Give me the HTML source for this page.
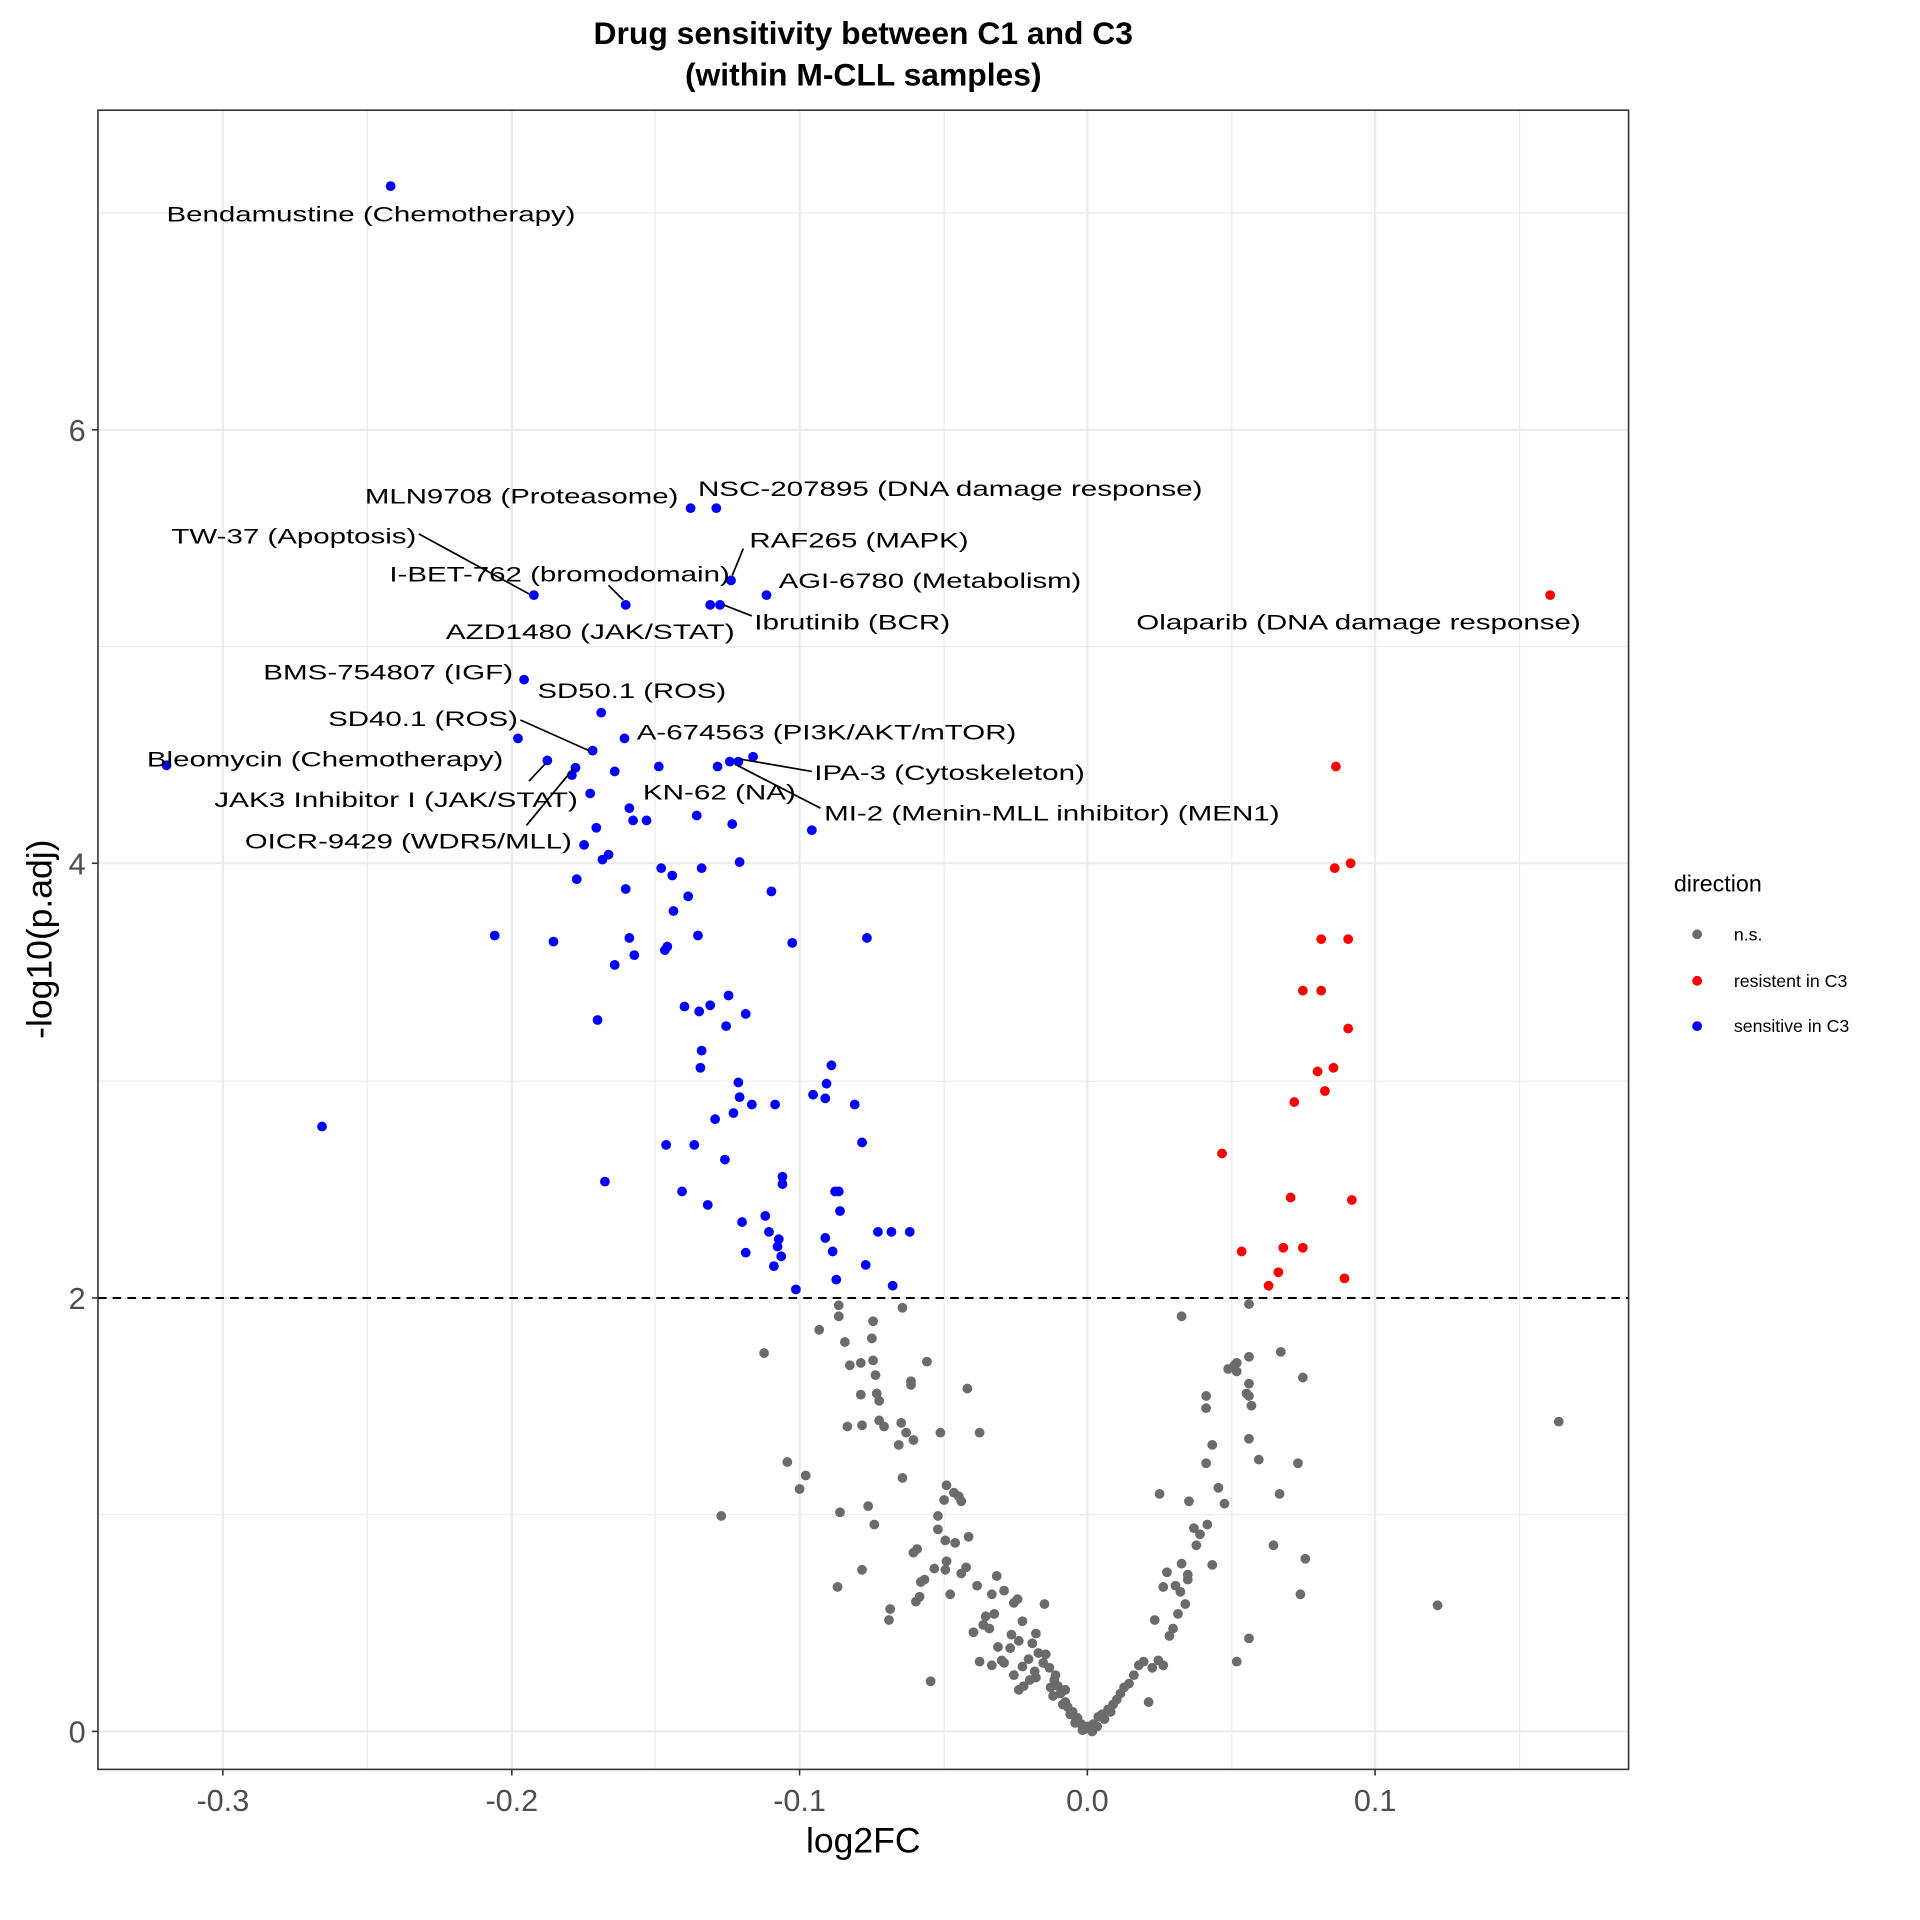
<!DOCTYPE html>
<html><head><meta charset="utf-8"><style>html,body{margin:0;padding:0;background:#fff}svg{display:block}</style></head>
<body>
<svg width="1920" height="1920" viewBox="0 0 1568 1568" xmlns="http://www.w3.org/2000/svg" font-family="Liberation Sans, Arial, sans-serif">
<rect width="1568" height="1568" fill="#fff"/>
<g stroke="#ebebeb" stroke-width="0.9">
<line x1="80" x2="1330" y1="1237" y2="1237"/><line x1="80" x2="1330" y1="883" y2="883"/><line x1="80" x2="1330" y1="528" y2="528"/><line x1="80" x2="1330" y1="174" y2="174"/>
<line y1="90" y2="1445" x1="300" x2="300"/><line y1="90" y2="1445" x1="535" x2="535"/><line y1="90" y2="1445" x1="771" x2="771"/><line y1="90" y2="1445" x1="1006" x2="1006"/><line y1="90" y2="1445" x1="1241" x2="1241"/>
</g>
<g stroke="#ebebeb" stroke-width="1.8">
<line x1="80" x2="1330" y1="1414" y2="1414"/><line x1="80" x2="1330" y1="1060" y2="1060"/><line x1="80" x2="1330" y1="705" y2="705"/><line x1="80" x2="1330" y1="351" y2="351"/>
<line y1="90" y2="1445" x1="182" x2="182"/><line y1="90" y2="1445" x1="418" x2="418"/><line y1="90" y2="1445" x1="653" x2="653"/><line y1="90" y2="1445" x1="888" x2="888"/><line y1="90" y2="1445" x1="1123" x2="1123"/>
</g>
<line x1="80" x2="1330" y1="1060" y2="1060" stroke="#000" stroke-width="1.6" stroke-dasharray="7,5"/>
<g id="pts"></g>
<g font-size="17.5" fill="#000">
<text x="136" y="181" textLength="334" lengthAdjust="spacingAndGlyphs">Bendamustine (Chemotherapy)</text>
<text x="298" y="411" textLength="256" lengthAdjust="spacingAndGlyphs">MLN9708 (Proteasome)</text>
<text x="570" y="405" textLength="412" lengthAdjust="spacingAndGlyphs">NSC-207895 (DNA damage response)</text>
<text x="140" y="444" textLength="200" lengthAdjust="spacingAndGlyphs">TW-37 (Apoptosis)</text>
<text x="612" y="447" textLength="179" lengthAdjust="spacingAndGlyphs">RAF265 (MAPK)</text>
<text x="318" y="475" textLength="278" lengthAdjust="spacingAndGlyphs">I-BET-762 (bromodomain)</text>
<text x="636" y="480" textLength="247" lengthAdjust="spacingAndGlyphs">AGI-6780 (Metabolism)</text>
<text x="364" y="522" textLength="236" lengthAdjust="spacingAndGlyphs">AZD1480 (JAK/STAT)</text>
<text x="616" y="514" textLength="160" lengthAdjust="spacingAndGlyphs">Ibrutinib (BCR)</text>
<text x="928" y="514" textLength="363" lengthAdjust="spacingAndGlyphs">Olaparib (DNA damage response)</text>
<text x="215" y="555" textLength="204" lengthAdjust="spacingAndGlyphs">BMS-754807 (IGF)</text>
<text x="439" y="570" textLength="154" lengthAdjust="spacingAndGlyphs">SD50.1 (ROS)</text>
<text x="268" y="593" textLength="155" lengthAdjust="spacingAndGlyphs">SD40.1 (ROS)</text>
<text x="520" y="604" textLength="310" lengthAdjust="spacingAndGlyphs">A-674563 (PI3K/AKT/mTOR)</text>
<text x="120" y="626" textLength="291" lengthAdjust="spacingAndGlyphs">Bleomycin (Chemotherapy)</text>
<text x="665" y="637" textLength="221" lengthAdjust="spacingAndGlyphs">IPA-3 (Cytoskeleton)</text>
<text x="175" y="659" textLength="297" lengthAdjust="spacingAndGlyphs">JAK3 Inhibitor I (JAK/STAT)</text>
<text x="525" y="653" textLength="125" lengthAdjust="spacingAndGlyphs">KN-62 (NA)</text>
<text x="673" y="670" textLength="372" lengthAdjust="spacingAndGlyphs">MI-2 (Menin-MLL inhibitor) (MEN1)</text>
<text x="200" y="693" textLength="267" lengthAdjust="spacingAndGlyphs">OICR-9429 (WDR5/MLL)</text>
</g>
<g stroke="#000" stroke-width="1.4">
<line x1="342" y1="436" x2="432" y2="485"/><line x1="607" y1="448" x2="598" y2="470"/><line x1="497" y1="478" x2="509" y2="490"/>
<line x1="614" y1="503" x2="591" y2="494"/><line x1="425" y1="588" x2="481" y2="613"/><line x1="663" y1="630" x2="605" y2="620"/>
<line x1="432" y1="638" x2="445" y2="624"/><line x1="670" y1="660" x2="602" y2="625"/><line x1="430" y1="674" x2="468" y2="628"/>
</g>
<rect x="80" y="90" width="1250" height="1355" fill="none" stroke="#333" stroke-width="1.3"/>
<g stroke="#333" stroke-width="1.3">
<line x1="75" x2="80" y1="1414" y2="1414"/><line x1="75" x2="80" y1="1060" y2="1060"/><line x1="75" x2="80" y1="705" y2="705"/><line x1="75" x2="80" y1="351" y2="351"/>
<line y1="1445" y2="1450" x1="182" x2="182"/><line y1="1445" y2="1450" x1="418" x2="418"/><line y1="1445" y2="1450" x1="653" x2="653"/><line y1="1445" y2="1450" x1="888" x2="888"/><line y1="1445" y2="1450" x1="1123" x2="1123"/>
</g>
<g font-size="25" fill="#4d4d4d" text-anchor="end">
<text x="70" y="1423">0</text><text x="70" y="1069">2</text><text x="70" y="714">4</text><text x="70" y="360">6</text>
</g>
<g font-size="25" fill="#4d4d4d" text-anchor="middle">
<text x="182" y="1479">-0.3</text><text x="418" y="1479">-0.2</text><text x="653" y="1479">-0.1</text><text x="888" y="1479">0.0</text><text x="1123" y="1479">0.1</text>
</g>
<text x="705" y="1513" font-size="29" text-anchor="middle">log2FC</text>
<text transform="translate(42,767) rotate(-90)" font-size="29" text-anchor="middle">-log10(p.adj)</text>
<text x="705" y="36" font-size="26" font-weight="bold" text-anchor="middle">Drug sensitivity between C1 and C3</text>
<text x="705" y="70" font-size="26" font-weight="bold" text-anchor="middle">(within M-CLL samples)</text>
<text x="1367" y="728" font-size="19">direction</text>
<circle cx="1386" cy="763" r="4" fill="#6b6b6b"/><circle cx="1386" cy="801" r="4" fill="#ff0000"/><circle cx="1386" cy="838" r="4" fill="#0000ff"/>
<g font-size="14.5"><text x="1416" y="768">n.s.</text><text x="1416" y="806">resistent in C3</text><text x="1416" y="843">sensitive in C3</text></g>
<script>
var NS="http://www.w3.org/2000/svg";
var B=[[319,152],[136,625],[263,920],[404,764],[452,769],[436,486],[511,494],[564,415],[585,415],[580,494],[588,494],[597,474],[626,486],[428,555],[491,582],[510,603],[423,603],[484,613],[447,621],[470,627],[467,633],[502,630],[538,626],[482,648],[514,660],[517,670],[528,670],[487,676],[569,666],[598,673],[586,626],[596,622],[603,622],[615,618],[663,678],[477,690],[492,702],[497,698],[471,718],[511,726],[540,709],[549,715],[573,709],[604,704],[562,732],[550,744],[630,728],[514,766],[570,764],[518,780],[545,773],[543,776],[502,788],[647,770],[708,766],[488,833],[559,822],[571,826],[580,821],[595,813],[609,828],[593,838],[573,858],[572,872],[603,884],[604,896],[584,914],[599,909],[614,902],[633,902],[698,902],[679,870],[675,885],[664,894],[674,897],[544,935],[567,935],[592,947],[704,933],[639,961],[639,967],[494,965],[557,973],[578,984],[682,973],[685,973],[686,989],[606,998],[625,993],[628,1006],[636,1012],[635,1018],[638,1026],[632,1034],[609,1023],[674,1011],[680,1022],[707,1033],[717,1006],[728,1006],[743,1006],[683,1045],[729,1050],[650,1053]];
var R=[[1266,486],[1091,626],[1103,705],[1090,709],[1079,767],[1101,767],[1064,809],[1079,809],[1101,840],[1089,872],[1076,875],[1082,891],[1057,900],[998,942],[1054,978],[1104,980],[1014,1022],[1048,1019],[1064,1019],[1044,1039],[1036,1050],[1098,1044]];
var G=[[1273,1161],[1174,1311],[1062,1302],[1066,1273],[589,1238],[624,1105],[643,1194],[653,1216],[658,1205],[669,1086],[685,1075],[685,1066],[690,1096],[694,1115],[703,1113],[713,1111],[713,1079],[712,1093],[718,1144],[715,1123],[716,1138],[718,1160],[722,1165],[704,1164],[692,1165],[703,1139],[709,1230],[714,1245],[737,1068],[757,1112],[744,1128],[744,1131],[736,1162],[740,1170],[746,1176],[790,1134],[768,1170],[800,1170],[737,1207],[734,1180],[686,1235],[684,1296],[704,1282],[727,1314],[726,1323],[749,1265],[746,1268],[748,1308],[751,1304],[760,1373],[766,1238],[771,1225],[773,1213],[779,1219],[783,1222],[785,1226],[766,1249],[791,1255],[773,1275],[772,1282],[776,1302],[789,1280],[795,1333],[800,1357],[803,1327],[810,1302],[814,1287],[820,1299],[828,1309],[831,1306],[835,1324],[843,1342],[846,1334],[853,1310],[825,1346],[818,1356],[810,1360],[835,1361],[841,1372],[832,1380],[846,1370],[854,1351],[857,1362],[861,1372],[864,1377],[866,1383],[870,1390],[872,1394],[876,1398],[879,1404],[883,1408],[886,1412],[890,1410],[893,1408],[897,1402],[900,1400],[905,1396],[909,1392],[912,1388],[915,1383],[918,1378],[922,1375],[926,1368],[930,1360],[934,1357],[938,1390],[941,1362],[943,1323],[946,1356],[950,1360],[955,1336],[958,1330],[964,1300],[962,1318],[968,1310],[970,1290],[965,1277],[953,1284],[950,1296],[960,1295],[970,1286],[975,1248],[977,1262],[980,1253],[986,1245],[990,1278],[985,1195],[990,1180],[985,1150],[985,1140],[995,1215],[1000,1228],[1003,1118],[1008,1115],[1010,1120],[1010,1113],[1020,1130],[1018,1138],[1020,1140],[1020,1175],[1022,1148],[1020,1108],[1020,1065],[1046,1104],[1060,1195],[1064,1125],[1045,1220],[1028,1192],[1040,1262],[1020,1338],[1010,1357],[965,1075],[947,1220],[971,1226],[888,1410],[880,1403],[870,1380],[862,1368],[852,1358],[845,1365],[836,1377],[828,1368],[820,1358],[815,1345],[808,1330],[805,1320],[798,1295],[785,1285],[780,1260],[772,1258],[763,1281],[755,1290],[752,1292],[860,1385],[868,1392],[874,1400],[878,1407],[884,1413],[892,1414],[896,1410],[902,1404],[907,1398],[840,1355],[826,1335],[812,1318],[832,1340],[848,1350],[858,1378]];
var g=document.getElementById("pts");
function add(a,c){a.forEach(function(p){var e=document.createElementNS(NS,"circle");e.setAttribute("cx",p[0]);e.setAttribute("cy",p[1]);e.setAttribute("r",4);e.setAttribute("fill",c);g.appendChild(e);});}
add(G,"#6b6b6b");add(R,"#ff0000");add(B,"#0000ff");
</script>
</svg>
</body></html>
